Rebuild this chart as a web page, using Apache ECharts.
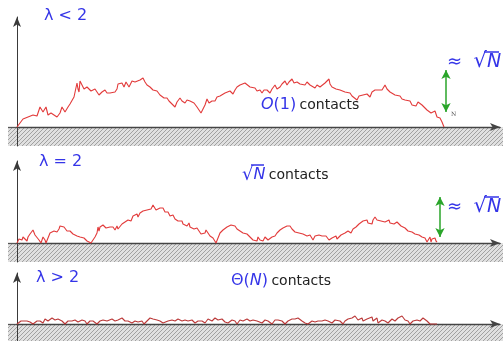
<!DOCTYPE html>
<html><head><meta charset="utf-8">
<script src="https://cdn.jsdelivr.net/npm/echarts@6/dist/echarts.min.js"></script>
<style>html,body{margin:0;padding:0;background:#fff}#chart{width:503px;height:341px}</style>
</head><body><div id="chart"></div>
<script>
// Polymer walk above a wall: three regimes of the pinning parameter λ.
// Each walk is given as step positions and heights above the wall.

// λ < 2 : walk leaves the wall and stays away
const stepsA = [0,3,6,8,11,13,16,18,20,23,26,29,31,34,37,40,43,45,48,51,53,55,57,59,60,61,62,63,65,67,68,70,71,74,76,78,80,82,83,85,88,90,93,95,98,100,101,103,105,107,109,110,112,113,115,116,118,120,123,126,128,130,133,136,138,140,143,145,147,150,152,153,155,158,160,163,165,168,170,173,175,177,180,182,184,186,188,190,192,193,195,196,198,200,203,205,208,210,213,215,216,218,220,223,225,228,230,233,235,238,240,243,245,247,250,251,253,255,258,260,263,265,268,270,272,275,277,280,283,285,288,290,293,295,298,300,303,305,308,310,312,313,315,317,319,321,323,325,328,330,333,335,337,340,342,344,346,348,350,353,355,358,360,362,365,368,370,373,375,378,380,383,385,388,390,393,395,397,399,401,403,405,407,410,412,414,416,418,420,422,423,425,426,427];
const heightsA = [0,4,8,9,10,10,12,14,11,20,15,20,12,14,12,10,14,20,15,20,23,24,30,28,44,38,35,46,45,38,37,40,40,36,34,38,37,32,30,35,37,34,34,36,35,38,43,41,44,40,45,46,40,42,46,48,45,46,47,49,45,42,40,37,35,36,32,33,29,29,26,25,23,20,25,29,26,24,27,26,28,24,20,17,14,18,22,28,24,22,26,28,26,30,31,32,34,32,36,34,33,37,40,42,44,44,42,40,42,39,36,37,34,37,37,35,34,38,42,38,40,43,46,42,45,48,44,45,43,44,42,45,42,40,39,42,40,41,44,44,48,43,40,42,38,40,37,39,35,37,34,31,29,27,31,29,32,30,33,30,35,37,39,37,37,42,38,35,34,32,30,31,28,27,25,26,22,24,21,25,25,22,20,17,18,14,13,16,10,8,9,5,3,0];

// λ = 2 : walk returns to the wall about √N times
const stepsB = [0,2,3,5,6,8,10,11,13,14,16,18,20,22,24,25,26,28,29,31,33,35,37,38,40,42,43,45,47,48,50,51,53,55,56,58,60,61,63,65,67,68,70,72,74,76,78,80,81,82,83,85,86,88,89,91,93,95,96,98,100,101,103,105,106,108,110,111,113,114,116,118,120,121,123,125,126,128,130,132,134,136,138,139,141,143,144,146,148,149,151,153,155,156,158,160,161,163,165,166,168,170,172,173,175,177,179,180,182,184,186,188,189,191,193,195,196,198,199,201,203,205,206,208,210,212,214,216,218,220,221,223,225,226,228,230,231,233,235,236,238,240,241,243,245,246,248,250,251,253,255,256,258,260,261,263,265,266,268,270,272,273,275,276,278,280,282,284,286,288,290,292,293,295,296,298,300,302,303,305,307,309,310,312,314,315,317,319,320,322,324,326,328,329,331,333,334,336,338,339,340,342,344,346,348,350,351,353,355,356,358,360,362,364,366,368,369,372,373,375,377,379,380,382,384,386,388,389,391,393,395,396,398,400,402,403,405,406,407,408,410,411,412,413,414,415,416,417,418,419,420];
const heightsB = [0,4,5,3,6,4,2,6,9,7,13,8,6,3,0,3,6,3,0,5,10,8,12,13,11,14,17,15,16,16,12,14,12,11,9,10,7,8,6,4,5,4,2,1,0,3,6,10,16,12,16,14,18,18,15,17,16,14,16,13,17,14,16,19,18,21,20,23,25,22,27,26,29,26,30,28,32,30,33,31,34,38,36,33,33,35,34,35,31,33,31,27,29,28,24,26,22,24,22,19,21,17,20,16,15,14,12,15,12,9,11,10,13,12,7,8,5,3,0,5,10,8,13,11,16,14,18,16,17,14,15,12,13,10,12,9,11,6,7,3,4,2,6,3,5,2,6,5,3,4,6,8,7,10,9,13,11,15,13,17,15,17,14,15,11,13,10,11,9,10,7,9,8,6,3,7,5,8,9,7,5,7,6,3,4,5,3,7,4,6,8,7,10,9,12,12,10,14,13,16,15,19,17,22,20,23,20,22,19,23,26,23,24,22,24,21,22,23,20,21,19,18,21,20,17,18,15,16,12,14,11,12,9,10,8,7,6,4,6,5,1,2,3,6,1,4,6,3,5,2,1,0];

// λ > 2 : walk pinned to the wall, Θ(N) contacts
const stepsC = [0,4,6,10,13,16,20,23,26,28,31,35,38,41,45,48,51,55,58,61,65,68,70,73,76,80,83,86,90,95,98,101,105,108,111,115,118,121,125,127,130,133,136,140,143,146,148,151,155,158,161,165,168,171,175,178,181,185,188,191,195,198,201,205,208,211,215,218,220,223,226,230,233,236,240,245,248,251,255,258,261,265,268,271,275,278,281,285,288,291,295,298,301,305,308,311,315,318,320,323,326,328,331,335,336,338,341,345,346,348,350,355,356,360,361,365,368,371,375,378,381,385,388,391,393,396,400,403,406,408,410,413,416,418,420];
const heightsC = [0,3,1,3,2,0,3,3,1,5,3,6,4,5,3,0,3,3,4,2,4,3,0,3,3,0,3,4,3,5,3,4,6,3,3,1,3,2,3,0,3,6,5,4,3,1,0,3,4,3,5,3,4,3,4,1,3,3,1,5,3,6,4,5,2,1,4,3,0,4,3,5,3,4,3,1,4,3,0,4,4,3,0,3,5,5,6,3,1,0,3,2,3,3,4,3,1,4,5,3,0,3,5,6,4,8,4,6,3,1,5,7,3,6,1,4,3,1,5,3,6,8,4,3,0,3,4,3,6,8,3,0,0,0,0];

// heights of the double arrows marking the ≈ √N excursion
const excursionA = [429, 15, 57];
const excursionB = [423, 6, 46];

const BLUE = '#3535e8';
const INK = '#222';

function hatchPattern() {
  const s = 4;
  const c = document.createElement('canvas');
  c.width = s; c.height = s;
  const g = c.getContext('2d');
  g.fillStyle = '#e0e0e0';
  g.fillRect(0, 0, s, s);
  g.strokeStyle = '#9a9a9a';
  g.lineWidth = 0.9;
  g.beginPath();
  g.moveTo(-1, s + 1); g.lineTo(s + 1, -1);
  g.moveTo(-1, 1); g.lineTo(1, -1);
  g.moveTo(s - 1, s + 1); g.lineTo(s + 1, s - 1);
  g.stroke();
  return { image: c, repeat: 'repeat' };
}

function pairs(xs, ys) { return xs.map((x, i) => [x, ys[i]]); }

const panels = [
  { top: 17, height: 129, min: -19, max: 110 },
  { top: 161, height: 101, min: -19, max: 82 },
  { top: 273, height: 68, min: -17, max: 51 }
];

const axisStyle = { color: '#3a3a3a', width: 1 };

const option = {
  animation: false,
  grid: panels.map(p => ({ left: 17, width: 483, top: p.top, height: p.height, outerBoundsMode: 'none' })),
  xAxis: panels.map((p, i) => ({
    gridIndex: i, type: 'value', min: 0, max: 483,
    axisLine: { show: true, onZero: true, symbol: ['none', 'arrow'], symbolSize: [6, 10], lineStyle: { color: '#444', width: 1.3 } },
    axisTick: { show: false }, axisLabel: { show: false }, splitLine: { show: false }
  })),
  yAxis: panels.map((p, i) => ({
    gridIndex: i, type: 'value', min: p.min, max: p.max,
    axisLine: { show: true, onZero: false, symbol: ['none', 'arrow'], symbolSize: [6, 10], lineStyle: axisStyle },
    axisTick: { show: false }, axisLabel: { show: false }, splitLine: { show: false }
  })),
  series: [
    { data: pairs(stepsA, heightsA), color: '#e23a3a', arrow: excursionA },
    { data: pairs(stepsB, heightsB), color: '#e23a3a', arrow: excursionB },
    { data: pairs(stepsC, heightsC), color: '#bb3838' }
  ].map((s, i) => ({
    type: 'line', xAxisIndex: i, yAxisIndex: i, data: s.data,
    showSymbol: false, symbol: 'none', z: 3,
    lineStyle: { color: s.color, width: 1.1 },
    markLine: s.arrow ? {
      silent: true, symbol: ['arrow', 'arrow'], symbolSize: [7, 9],
      lineStyle: { color: '#2aa52a', width: 1.5, type: 'solid' },
      label: { show: false },
      data: [[{ coord: [s.arrow[0], s.arrow[2]] }, { coord: [s.arrow[0], s.arrow[1]] }]]
    } : undefined
  })),
  graphic: []
};

const hatch = hatchPattern();
[[127, 19], [243, 19], [324, 17]].forEach(([y, h]) => {
  option.graphic.push({ type: 'rect', z: -10, silent: true, shape: { x: 8, y: y, width: 495, height: h }, style: { fill: hatch } });
  option.graphic.push({ type: 'line', z: -5, silent: true, shape: { x1: 8, y1: y + 0.5, x2: 17, y2: y + 0.5 }, style: { stroke: '#555', lineWidth: 1.3 } });
});

const rich = {
  b: { fill: BLUE, fontSize: 16, fontFamily: 'DejaVu Sans' },
  i: { fill: BLUE, fontSize: 16, fontFamily: 'DejaVu Sans', fontStyle: 'italic' },
  t: { fill: INK, fontSize: 14, fontFamily: 'DejaVu Sans' },
  sq: { fill: BLUE, fontSize: 18, fontFamily: 'DejaVu Sans' },
  big: { fill: BLUE, fontSize: 18, fontFamily: 'DejaVu Sans' },
  root: { fill: BLUE, fontSize: 21, fontFamily: 'DejaVu Sans' },
  bigi: { fill: BLUE, fontSize: 19, fontFamily: 'DejaVu Sans', fontStyle: 'italic' }
};
function label(x, y, text) {
  option.graphic.push({ type: 'text', z: 10, silent: true, style: { x: x, y: y, text: text, rich: rich, verticalAlign: 'middle' } });
}
function bar(x1, x2, y) {
  option.graphic.push({ type: 'line', z: 10, silent: true, shape: { x1: x1, y1: y, x2: x2, y2: y }, style: { stroke: BLUE, lineWidth: 1.5 } });
}

label(44, 16, '{b|λ < 2}');
label(261, 105, '{i|O}{b|(1)} {t|contacts}');
label(447, 62, '{big|≈  }{root|√}{bigi|N}');
bar(484, 499, 52);
option.graphic.push({ type: 'text', z: 10, silent: true, style: { x: 451, y: 114, text: 'N', fill: '#555', fontSize: 6, fontFamily: 'DejaVu Serif', verticalAlign: 'middle' } });

label(39, 162, '{b|λ = 2}');
label(242, 175, '{sq|√}{i|N} {t|contacts}');
bar(251, 264, 165);
label(447, 207, '{big|≈  }{root|√}{bigi|N}');
bar(484, 499, 197);

label(36, 278, '{b|λ > 2}');
label(231, 281, '{b|Θ(}{i|N}{b|)} {t|contacts}');

const chart = echarts.init(document.getElementById('chart'), null, { renderer: 'canvas' });
chart.setOption(option);
</script>
</body></html>
